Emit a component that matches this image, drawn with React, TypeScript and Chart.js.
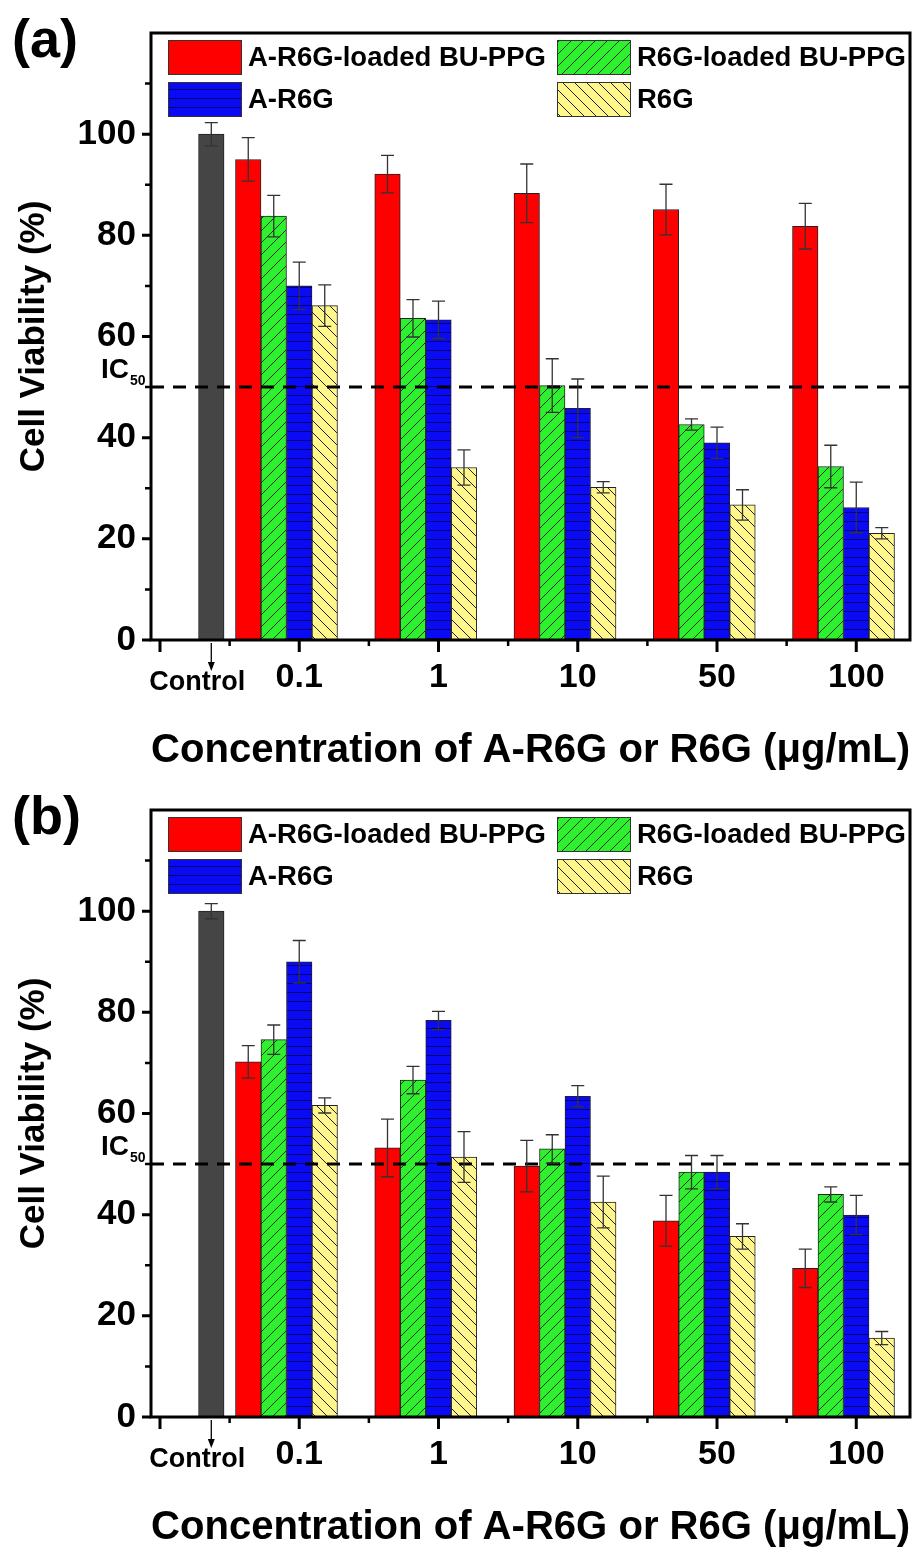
import React, { useEffect, useRef } from "react";
import { Chart, registerables } from "chart.js";

Chart.register(...registerables);

// ---------- data ----------
const categories = ["Control", "0.1", "1", "10", "50", "100"];
const seriesLabels = ["A-R6G-loaded BU-PPG", "R6G-loaded BU-PPG", "A-R6G", "R6G"];
const IC50 = 50;
const xTitle = "Concentration of A-R6G or R6G (\u03bcg/mL)";
const yTitle = "Cell Viability (%)";

// panel (a)
const controlA = 100;
const controlErrA = 2.3;
const aR6GLoadedA = [95.0, 92.1, 88.3, 85.1, 81.8];
const aR6GLoadedErrA = [4.3, 3.7, 5.8, 5.0, 4.5];
const r6gLoadedA = [83.8, 63.6, 50.3, 42.6, 34.3];
const r6gLoadedErrA = [4.1, 3.7, 5.3, 1.1, 4.2];
const aR6GA = [70.0, 63.3, 45.8, 39.0, 26.2];
const aR6GErrA = [4.7, 3.7, 5.8, 3.1, 5.0];
const r6gA = [66.1, 34.1, 30.2, 26.7, 21.1];
const r6gErrA = [4.1, 3.5, 1.1, 3.0, 1.1];

// panel (b)
const controlB = 100;
const controlErrB = 1.5;
const aR6GLoadedB = [70.2, 53.2, 49.6, 38.8, 29.4];
const aR6GLoadedErrB = [3.2, 5.7, 5.1, 5.0, 3.8];
const r6gLoadedB = [74.6, 66.6, 53.0, 48.4, 44.0];
const r6gLoadedErrB = [2.9, 2.7, 2.8, 3.3, 1.5];
const aR6GB = [90.0, 78.4, 63.4, 48.4, 39.9];
const aR6GErrB = [4.2, 1.8, 2.1, 3.3, 3.9];
const r6gB = [61.6, 51.4, 42.5, 35.7, 15.6];
const r6gErrB = [1.5, 5.0, 5.1, 2.5, 1.3];

// ---------- layout / style ----------
const FONT = "'Liberation Sans', Arial, Helvetica, sans-serif";
const CONTROL_POS = 0.46;
const TICK_SHIFT = 0.0916;
const XMIN = 0.027;
const XMAX = 5.4775;
const AXIS_Y = 640;

function makePattern(bg: string, kind: string, line: string, size: number): any {
  if (kind === "none") return bg;
  const c = document.createElement("canvas");
  c.width = size;
  c.height = size;
  const g = c.getContext("2d")!;
  g.fillStyle = bg;
  g.fillRect(0, 0, size, size);
  g.strokeStyle = line;
  g.lineWidth = 1;
  g.beginPath();
  if (kind === "horiz") {
    g.moveTo(0, size - 0.5);
    g.lineTo(size, size - 0.5);
  } else if (kind === "fwd") {
    for (const o of [-size, 0, size]) {
      g.moveTo(o, size);
      g.lineTo(o + size, 0);
    }
  } else {
    for (const o of [-size, 0, size]) {
      g.moveTo(o, 0);
      g.lineTo(o + size, size);
    }
  }
  g.stroke();
  return g.createPattern(c, "repeat");
}

const decorPlugin = {
  id: "decor",
  afterDatasetsDraw(chart: any) {
    const { ctx, chartArea: a, scales } = chart;
    const x = scales.x;
    const y = scales.y;
    const o = chart.options.plugins.decor || {};
    ctx.save();

    // IC50 dashed line
    const yIC = y.getPixelForValue(IC50);
    ctx.setLineDash([13, 9]);
    ctx.lineWidth = 3;
    ctx.strokeStyle = "#000";
    ctx.beginPath();
    ctx.moveTo(a.left, yIC);
    ctx.lineTo(a.right, yIC);
    ctx.stroke();
    ctx.setLineDash([]);

    // error bars
    chart.data.datasets.forEach((ds: any, di: number) => {
      const meta = chart.getDatasetMeta(di);
      ds.errors.forEach((e: any, i: number) => {
        const v = ds.data[i].y;
        if (v == null || e == null) return;
        const bar = meta.data[i];
        const cx = bar.x;
        const t = y.getPixelForValue(v + e);
        const b = y.getPixelForValue(v - e);
        ctx.strokeStyle = "#333";
        ctx.lineWidth = 1.3;
        ctx.beginPath();
        ctx.moveTo(cx, t);
        ctx.lineTo(cx, b);
        ctx.moveTo(cx - 6.5, t);
        ctx.lineTo(cx + 6.5, t);
        ctx.moveTo(cx - 6.5, b);
        ctx.lineTo(cx + 6.5, b);
        ctx.stroke();
      });
    });

    // frame
    ctx.lineWidth = 3;
    ctx.strokeStyle = "#000";
    ctx.strokeRect(a.left, a.top, a.right - a.left, a.bottom - a.top);

    // y ticks (major + minor)
    ctx.lineWidth = 3;
    const yt = y.ticks.map((t: any) => t.value);
    ctx.beginPath();
    yt.forEach((v: number) => {
      const py = y.getPixelForValue(v);
      ctx.moveTo(a.left - 9, py);
      ctx.lineTo(a.left, py);
    });
    ctx.stroke();
    ctx.lineWidth = 2.5;
    ctx.beginPath();
    for (let i = 0; i < yt.length; i++) {
      const v = yt[i] + (yt[1] - yt[0]) / 2;
      if (v >= y.max) break;
      const py = y.getPixelForValue(v);
      ctx.moveTo(a.left - 6, py);
      ctx.lineTo(a.left, py);
    }
    ctx.stroke();

    // x ticks (major + minor)
    const xt = x.ticks.map((t: any) => t.value);
    ctx.lineWidth = 3;
    ctx.beginPath();
    xt.forEach((v: number) => {
      const px = x.getPixelForValue(v);
      ctx.moveTo(px, a.bottom);
      ctx.lineTo(px, a.bottom + 12);
    });
    ctx.stroke();
    ctx.lineWidth = 2.5;
    ctx.beginPath();
    for (let i = 0; i < xt.length - 1; i++) {
      const px = x.getPixelForValue((xt[i] + xt[i + 1]) / 2);
      ctx.moveTo(px, a.bottom);
      ctx.lineTo(px, a.bottom + 6);
    }
    ctx.stroke();

    // Control label + arrow
    const cbar = chart.getDatasetMeta(0).data[0];
    const cx = cbar.x;
    ctx.lineWidth = 1.3;
    ctx.strokeStyle = "#000";
    ctx.beginPath();
    ctx.moveTo(cx, a.bottom + 3);
    ctx.lineTo(cx, a.bottom + 26);
    ctx.stroke();
    ctx.fillStyle = "#000";
    ctx.beginPath();
    ctx.moveTo(cx - 3.5, a.bottom + 22);
    ctx.lineTo(cx + 3.5, a.bottom + 22);
    ctx.lineTo(cx, a.bottom + 31);
    ctx.closePath();
    ctx.fill();
    ctx.font = `bold 27px ${FONT}`;
    ctx.textAlign = "center";
    ctx.textBaseline = "alphabetic";
    ctx.fillText(categories[0], cx - 14, a.bottom + 50);

    // IC50 label
    ctx.textAlign = "right";
    ctx.font = `bold 28px ${FONT}`;
    ctx.fillText("IC", a.left - 22, yIC - 9);
    ctx.textAlign = "left";
    ctx.font = `bold 14px ${FONT}`;
    ctx.fillText("50", a.left - 21, yIC - 2);

    // legend
    const boxW = 74;
    const boxH = 35;
    const cols = [a.left + 17, a.left + 406];
    const rows = [a.top + 7, a.top + 49];
    const legendSets = chart.data.datasets.filter((d: any) => d.inLegend);
    legendSets.forEach((d: any, i: number) => {
      const bx = cols[i % 2];
      const by = rows[Math.floor(i / 2)];
      ctx.fillStyle = d.backgroundColor;
      ctx.fillRect(bx, by, boxW, boxH);
      ctx.lineWidth = 1;
      ctx.strokeStyle = "#333";
      ctx.strokeRect(bx + 0.5, by + 0.5, boxW - 1, boxH - 1);
      ctx.fillStyle = "#000";
      ctx.font = `bold 27.5px ${FONT}`;
      ctx.textAlign = "left";
      ctx.textBaseline = "middle";
      ctx.fillText(d.label, bx + boxW + 6, by + boxH / 2 + 1);
    });

    // panel letter
    ctx.fillStyle = "#000";
    ctx.font = `bold 54px ${FONT}`;
    ctx.textAlign = "left";
    ctx.textBaseline = "alphabetic";
    ctx.fillText(o.letter || "", 12, 57);

    ctx.restore();
  },
};

function Panel(props: any) {
  const ref = useRef<HTMLCanvasElement>(null);
  useEffect(() => {
    const H = props.height;
    const patterns = [
      "#FF0000",
      makePattern("#2EF02E", "fwd", "#113311", 12),
      makePattern("#0A0AF5", "horiz", "#000070", 9),
      makePattern("#FFF68C", "back", "#222222", 12),
    ];
    const xPos = categories.map((_, i) => (i === 0 ? CONTROL_POS : i));
    const datasets: any[] = [
      {
        label: categories[0],
        data: xPos.map((xv, i) => ({ x: xv, y: i === 0 ? props.control : null })),
        errors: xPos.map((_, i) => (i === 0 ? props.controlErr : null)),
        backgroundColor: "#454545",
        borderColor: "#222",
        borderWidth: 1,
        inLegend: false,
      },
      ...props.values.map((vals: number[], s: number) => ({
        label: seriesLabels[s],
        data: xPos.map((xv, i) => ({ x: xv, y: i === 0 ? null : vals[i - 1] })),
        errors: xPos.map((_, i) => (i === 0 ? null : props.errors[s][i - 1])),
        backgroundColor: patterns[s],
        borderColor: "#222",
        borderWidth: 1,
        inLegend: true,
      })),
    ];
    const tickFont = { family: FONT, size: 34, weight: "bold", lineHeight: 1 };
    const chart = new Chart(ref.current!, {
      type: "bar",
      data: { datasets },
      plugins: [decorPlugin],
      options: {
        responsive: false,
        animation: false,
        devicePixelRatio: 1,
        layout: { padding: { left: 0, right: 10, top: 33, bottom: 0 } },
        datasets: { bar: { barThickness: 25.5, skipNull: true, grouped: true } },
        plugins: {
          legend: { display: false },
          tooltip: { enabled: false },
          decor: { letter: props.letter },
        },
        scales: {
          x: {
            type: "linear",
            offset: false,
            min: XMIN,
            max: XMAX,
            grid: { display: false, drawTicks: false, offset: false },
            border: { display: false },
            afterBuildTicks: (s: any) => {
              s.ticks = categories.map((_, i) => ({ value: i + TICK_SHIFT }));
            },
            afterFit: (s: any) => {
              s.height = H - AXIS_Y;
            },
            ticks: {
              autoSkip: false,
              maxRotation: 0,
              minRotation: 0,
              padding: 21,
              color: "#000",
              font: tickFont,
              callback: (_v: any, i: number) => (i === 0 ? "" : categories[i]),
            },
            title: {
              display: true,
              text: xTitle,
              color: "#000",
              font: { family: FONT, size: 41, weight: "bold", lineHeight: 1 },
              padding: { top: 0, bottom: H - 20 - 751 },
            },
          },
          y: {
            min: 0,
            max: 120,
            grid: { display: false, drawTicks: false },
            border: { display: false },
            afterBuildTicks: (s: any) => {
              s.ticks = s.ticks.filter((t: any) => t.value <= 100);
            },
            afterFit: (s: any) => {
              s.width = 151;
            },
            ticks: { stepSize: 20, padding: 15, color: "#000", font: { ...tickFont, size: 35 } },
            title: {
              display: true,
              text: yTitle,
              color: "#000",
              font: { family: FONT, size: 35, weight: "bold", lineHeight: 1 },
              padding: { top: 17, bottom: 0 },
            },
          },
        },
      } as any,
    });
    return () => chart.destroy();
  }, []);
  return (
    <canvas
      ref={ref}
      width={920}
      height={props.height}
      style={{ position: "absolute", left: 0, top: props.top, width: 920, height: props.height, display: "block" }}
    />
  );
}

export default function App() {
  return (
    <div style={{ position: "absolute", left: 0, top: 0, width: 920, height: 1549, background: "#fff" }}>
      <Panel
        letter="(a)"
        top={0}
        height={777}
        control={controlA}
        controlErr={controlErrA}
        values={[aR6GLoadedA, r6gLoadedA, aR6GA, r6gA]}
        errors={[aR6GLoadedErrA, r6gLoadedErrA, aR6GErrA, r6gErrA]}
      />
      <Panel
        letter="(b)"
        top={777}
        height={772}
        control={controlB}
        controlErr={controlErrB}
        values={[aR6GLoadedB, r6gLoadedB, aR6GB, r6gB]}
        errors={[aR6GLoadedErrB, r6gLoadedErrB, aR6GErrB, r6gErrB]}
      />
    </div>
  );
}
